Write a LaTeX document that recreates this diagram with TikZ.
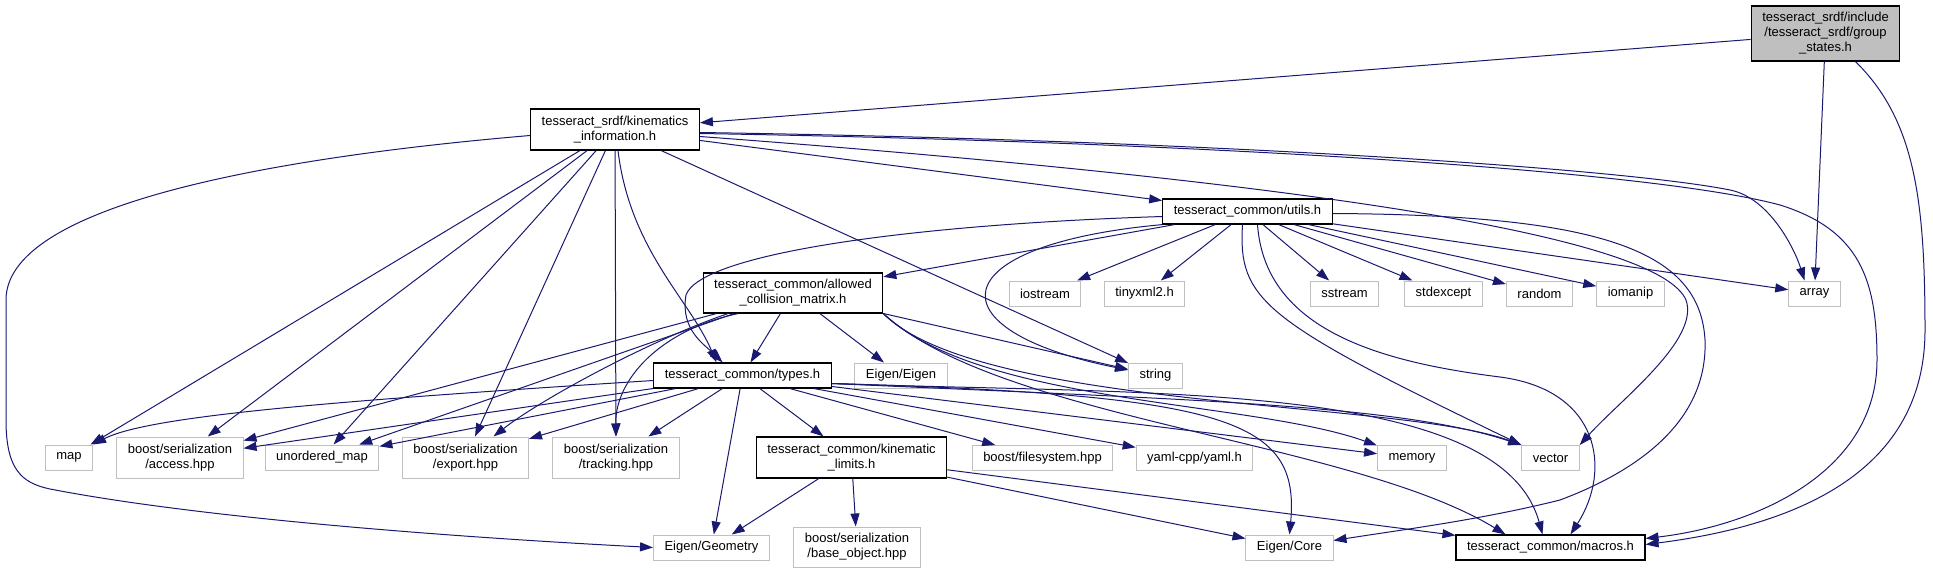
\documentclass[tikz,border=0pt]{standalone}
\usepackage{fontspec}
\setmainfont{Liberation Sans}
\usepackage{tikz}
\usetikzlibrary{arrows.meta}

\definecolor{edgeblue}{RGB}{25,25,112}
\definecolor{grey75}{RGB}{191,191,191}

\tikzset{
  hdr/.style={draw=black, line width=1.2pt, fill=white, align=center,
    font=\fontsize{13}{15}\selectfont, inner xsep=11pt, inner ysep=2pt,
    minimum height=25pt},
  syshdr/.style={hdr, draw=grey75, line width=1pt},
  twoline/.style={minimum height=41pt},
  incl/.style={draw=edgeblue, line width=1pt, -{Triangle[length=13pt,width=9pt]}},
}

\begin{document}
\begin{tikzpicture}[x=1pt,y=-1pt]
        \useasboundingbox (0,0) rectangle (1933,573);

        % documented headers
        \node[hdr, fill=grey75, minimum height=55pt] (groupstates) at (1825.5,33.5) {tesseract\_srdf/include\\/tesseract\_srdf/group\\\_states.h};
        \node[hdr, twoline] (kininfo) at (615,129.5) {tesseract\_srdf/kinematics\\\_information.h};
        \node[hdr] (utils) at (1247.5,211.5) {tesseract\_common/utils.h};
        \node[hdr, minimum height=40pt] (allowed) at (793,293) {tesseract\_common/allowed\\\_collision\_matrix.h};
        \node[hdr] (types) at (742.5,375.5) {tesseract\_common/types.h};
        \node[hdr, twoline] (kinlimits) at (851.5,457.5) {tesseract\_common/kinematic\\\_limits.h};
        \node[hdr] (macros) at (1550.5,547.5) {tesseract\_common/macros.h};

        % system and external headers
        \node[syshdr] (iostream) at (1045,293.5) {iostream};
        \node[syshdr] (tinyxml) at (1144.5,293.5) {tinyxml2.h};
        \node[syshdr] (sstream) at (1344.5,293.5) {sstream};
        \node[syshdr] (stdexcept) at (1443.5,293.5) {stdexcept};
        \node[syshdr] (random) at (1539.5,293.5) {random};
        \node[syshdr] (iomanip) at (1630.5,293.5) {iomanip};
        \node[syshdr] (array) at (1814.5,293.5) {array};
        \node[syshdr] (eigen) at (901,375.5) {Eigen/Eigen};
        \node[syshdr] (string) at (1155.5,375.5) {string};
        \node[syshdr] (map) at (69,457.5) {map};
        \node[syshdr, twoline] (access) at (180,457.5) {boost/serialization\\/access.hpp};
        \node[syshdr] (unorderedmap) at (322,457.5) {unordered\_map};
        \node[syshdr, twoline] (export) at (465.5,457.5) {boost/serialization\\/export.hpp};
        \node[syshdr, twoline] (tracking) at (616,457.5) {boost/serialization\\/tracking.hpp};
        \node[syshdr] (filesystem) at (1042.5,458) {boost/filesystem.hpp};
        \node[syshdr] (yaml) at (1194.5,458) {yaml-cpp/yaml.h};
        \node[syshdr] (memory) at (1412,458) {memory};
        \node[syshdr] (vector) at (1550.5,458) {vector};
        \node[syshdr] (geometry) at (711.5,547.5) {Eigen/Geometry};
        \node[syshdr, minimum height=40pt] (baseobject) at (857,547) {boost/serialization\\/base\_object.hpp};
        \node[syshdr] (core) at (1289.5,547.5) {Eigen/Core};

        % straight includes
        \foreach \src/\dst in {groupstates/kininfo, groupstates/array,
            kininfo/map, kininfo/access, kininfo/unorderedmap, kininfo/export,
            kininfo/tracking, kininfo/string, kininfo/utils,
            utils/allowed, utils/iostream, utils/tinyxml, utils/sstream,
            utils/stdexcept, utils/random, utils/iomanip, utils/array,
            allowed/types, allowed/eigen, allowed/access, allowed/unorderedmap, allowed/string,
            types/access, types/unorderedmap, types/export, types/tracking,
            types/geometry, types/kinlimits, types/filesystem, types/yaml, types/memory,
            kinlimits/geometry, kinlimits/baseobject, kinlimits/core, kinlimits/macros}
            \draw[incl] (\src) -- (\dst);

        % curved includes
        \draw[incl] ([xshift=30pt]groupstates.south) .. controls (1915,120) and (1925,200) .. (1925,330)
            .. controls (1925,470) and (1800,525) .. ([yshift=3pt]macros.east);

        \draw[incl] ([yshift=-6pt]kininfo.west) .. controls (300,155) and (6,200) .. (6,300) -- (6,420)
            .. controls (6,470) and (22,483) .. (50,489) .. controls (200,518) and (450,537) .. (geometry.west);
        \draw[incl] ([xshift=3pt]kininfo.south) .. controls (630,250) and (690,300) .. ([xshift=-26pt]types.north);
        \draw[incl] ([yshift=-3pt]kininfo.east) .. controls (1200,140) and (1620,168) .. (1730,190)
            .. controls (1770,198) and (1795,250) .. ([xshift=-10pt]array.north);
        \draw[incl] ([yshift=-4pt]kininfo.east) .. controls (1200,142) and (1650,170) .. (1780,205)
            .. controls (1860,230) and (1877,280) .. (1877,360)
            .. controls (1877,470) and (1760,525) .. ([yshift=9pt]macros.east);
        \draw[incl] ([yshift=-7pt]kininfo.east) .. controls (1350,185) and (1660,240) .. (1686,300)
            .. controls (1700,340) and (1620,400) .. (vector.north east);

        \draw[incl] ([yshift=-5pt]utils.west) .. controls (900,225) and (700,255) .. (686,295)
            .. controls (680,330) and (705,345) .. ([xshift=-20pt]types.north);
        \draw[incl] (utils.south west) .. controls (940,245) and (930,330) .. (string);
        \draw[incl] ([xshift=-5pt]utils.south) .. controls (1238,300) and (1262,320) .. (vector.north west);
        \draw[incl] ([xshift=10pt]utils.south) .. controls (1265,330) and (1380,362) .. (1500,377)
            .. controls (1600,390) and (1612,470) .. ([xshift=20pt]macros.north);
        \draw[incl] ([yshift=-2pt]utils.east) .. controls (1600,215) and (1700,250) .. (1705,340)
            .. controls (1708,420) and (1640,470) .. (1560,500)
            .. controls (1480,520) and (1400,530) .. ([yshift=7pt]core.east);

        \draw[incl] ([xshift=-55pt]allowed.south) .. controls (660,330) and (615,380) .. (tracking.north);
        \draw[incl] ([xshift=-65pt]allowed.south) .. controls (650,340) and (540,400) .. ([xshift=28pt]export.north);
        \draw[incl] (allowed.south east) .. controls (980,405) and (1250,400) .. (memory);
        \draw[incl] (allowed.south east) .. controls (980,410) and (1400,400) .. (vector.north west);
        \draw[incl] (allowed.south east) .. controls (1000,420) and (1350,440) .. ([xshift=-45pt]macros.north);

        \draw[incl] ([yshift=-5pt]types.west) .. controls (350,400) and (150,415) .. (map.north east);
        \draw[incl] ([yshift=-8pt]types.east) .. controls (1200,400) and (1400,405) .. (vector.north west);
        \draw[incl] ([yshift=-8pt]types.east) .. controls (1230,395) and (1300,420) .. (core.north);
        \draw[incl] ([yshift=-8pt]types.east) .. controls (1150,395) and (1500,380) .. ([xshift=-8pt]macros.north);
\end{tikzpicture}
\end{document}
